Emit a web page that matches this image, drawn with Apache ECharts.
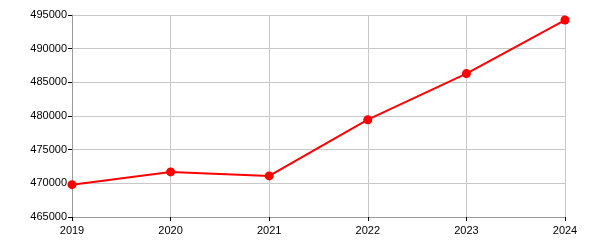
<!DOCTYPE html>
<html><head><meta charset="utf-8">
<script src="https://cdn.jsdelivr.net/npm/echarts@6/dist/echarts.min.js"></script>
<style>html,body{margin:0;padding:0;background:#fff}#c{width:600px;height:250px}</style>
</head><body><div id="c"></div>
<script>
const years = ['2019','2020','2021','2022','2023','2024'];
const values = [469800, 471700, 471100, 479450, 486300, 494250];
const yMin = 465000, yMax = 495000, yStep = 5000;

const chart = echarts.init(document.getElementById('c'), null, {renderer:'canvas'});
chart.setOption({
  animation:false,
  backgroundColor:'#fff',
  grid:{left:72,right:35,top:15,bottom:33,containLabel:false},
  xAxis:{type:'category',data:years,boundaryGap:false,
    axisLine:{lineStyle:{color:'#999',width:1}},
    axisTick:{show:true,length:4,alignWithLabel:true,lineStyle:{color:'#000'}},
    axisLabel:{color:'#000',fontSize:11,fontFamily:'Liberation Sans, Arial',margin:8},
    splitLine:{show:true,lineStyle:{color:'#c8c8c8',width:1}}},
  yAxis:{type:'value',min:yMin,max:yMax,interval:yStep,
    axisLine:{show:true,lineStyle:{color:'#999',width:1}},
    axisTick:{show:true,length:4,lineStyle:{color:'#000'}},
    axisLabel:{color:'#000',fontSize:11,fontFamily:'Liberation Sans, Arial',margin:5,
      formatter:v=>String(v)},
    splitLine:{show:true,lineStyle:{color:'#c8c8c8',width:1}}},
  series:[{type:'line',data:values,symbol:'circle',symbolSize:9,
    lineStyle:{color:'#ff0000',width:2},itemStyle:{color:'#ff0000'}}]
});
</script></body></html>
